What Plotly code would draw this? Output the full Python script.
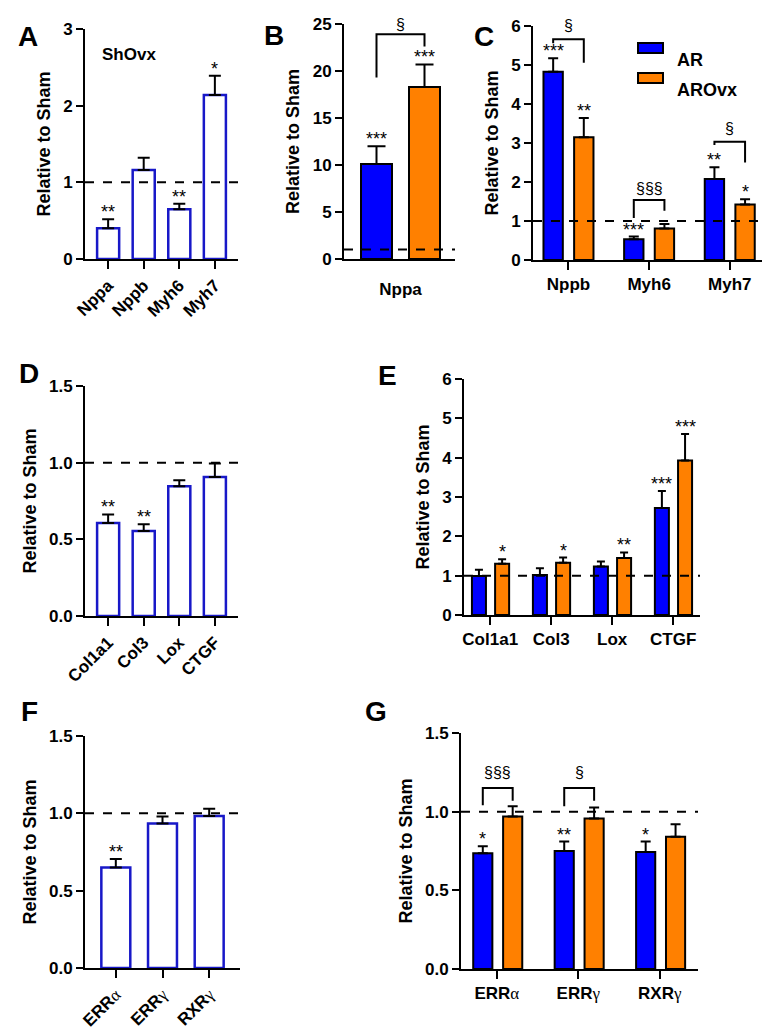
import plotly.graph_objects as go

W, H = 771, 1030
PAD = 8  # default page margin around the plot div
FW, FH = W - PAD, H - PAD
BLUE = "#0000FF"
ORANGE = "#FF8000"
HOLLOW = "#1818C8"
FONT = "Arial, Liberation Sans, sans-serif"

# ---------------- data ----------------
# A  ShOvx
a_genes = ["Nppa", "Nppb", "Myh6", "Myh7"]
a_mean = [0.40, 1.16, 0.65, 2.14]
a_sem = [0.12, 0.16, 0.07, 0.25]
a_sig = ["**", "", "**", "*"]

# B  Nppa, AR vs AROvx
b_genes = ["Nppa"]
b_ar = [10.1]
b_ar_sem = [1.9]
b_ovx = [18.3]
b_ovx_sem = [2.4]
b_ar_sig = ["***"]
b_ovx_sig = ["***"]

# C
c_genes = ["Nppb", "Myh6", "Myh7"]
c_ar = [4.83, 0.53, 2.08]
c_ar_sem = [0.34, 0.07, 0.30]
c_ovx = [3.15, 0.81, 1.42]
c_ovx_sem = [0.49, 0.11, 0.14]
c_ar_sig = ["***", "***", "**"]
c_ovx_sig = ["**", "", "*"]

# D  ShOvx fibrosis
d_genes = ["Col1a1", "Col3", "Lox", "CTGF"]
d_mean = [0.607, 0.554, 0.846, 0.907]
d_sem = [0.055, 0.044, 0.039, 0.087]
d_sig = ["**", "**", "", ""]

# E
e_genes = ["Col1a1", "Col3", "Lox", "CTGF"]
e_ar = [0.99, 1.02, 1.23, 2.72]
e_ar_sem = [0.16, 0.17, 0.13, 0.43]
e_ovx = [1.30, 1.33, 1.45, 3.93]
e_ovx_sem = [0.12, 0.13, 0.14, 0.67]
e_ar_sig = ["", "", "", "***"]
e_ovx_sig = ["*", "*", "**", "***"]

# F
GREEK = "<span style='font-family:Times New Roman, Liberation Serif, serif;font-weight:normal'>%s</span>"
f_genes = ["ERR" + GREEK % "α", "ERR" + GREEK % "γ", "RXR" + GREEK % "γ"]
f_mean = [0.65, 0.935, 0.983]
f_sem = [0.055, 0.045, 0.047]
f_sig = ["**", "", ""]

# G
g_genes = f_genes
g_ar = [0.735, 0.75, 0.743]
g_ar_sem = [0.045, 0.06, 0.067]
g_ovx = [0.97, 0.957, 0.84]
g_ovx_sem = [0.065, 0.07, 0.08]
g_ar_sig = ["*", "**", "*"]
g_ovx_sig = ["", "", ""]

# brackets: (panel, category, y_left, y_top, y_right, label, label_y)
brackets = [
    (2, 0, 19.3, 23.9, 22.6, "§", 25.0),
    (3, 0, 5.56, 5.66, 5.06, "§", 6.0),
    (3, 1, 1.08, 1.54, 1.26, "§§§", 1.84),
    (3, 2, 2.95, 3.03, 2.50, "§", 3.38),
    (7, 0, 1.04, 1.15, 1.07, "§§§", 1.25),
    (7, 1, 1.035, 1.15, 1.07, "§", 1.25),
]

fig = go.Figure()
annotations = []
shapes = []


def px_x(v):
    return (v - PAD) / FW


def px_y(v):
    return 1 - (v - PAD) / FH


def ref(n):
    return ("x" if n == 1 else f"x{n}"), ("y" if n == 1 else f"y{n}")


def setup_axes(n, xpx, ypx, xrange, yrange, ydtick, labels, tickangle=0,
               yfmt=None, xticklen=8, xtickcolor="black"):
    xa = "xaxis" if n == 1 else f"xaxis{n}"
    ya = "yaxis" if n == 1 else f"yaxis{n}"
    _, yr = ref(n)
    fig.update_layout(**{
        xa: dict(
            domain=[px_x(xpx[0]), px_x(xpx[1])], anchor=yr, range=xrange, automargin=False,
            tickvals=list(range(len(labels))), ticktext=labels,
            tickangle=tickangle, showline=True, linecolor="black", linewidth=2,
            ticks="outside", ticklen=xticklen, tickwidth=2, tickcolor=xtickcolor,
            showgrid=False, zeroline=False, fixedrange=True,
            tickfont=dict(family=FONT, size=17, color="black", weight="bold"),
        ),
        ya: dict(
            domain=[px_y(ypx[1]), px_y(ypx[0])], anchor=ref(n)[0], automargin=False,
            range=yrange, dtick=ydtick, tick0=0, tickformat=yfmt,
            showline=True, linecolor="black", linewidth=2,
            ticks="outside", ticklen=7, tickwidth=2, tickcolor="black",
            showgrid=False, zeroline=False, fixedrange=True,
            tickfont=dict(family=FONT, size=17, color="black", weight="bold"),
            title=dict(text="Relative to Sham", standoff=8,
                       font=dict(family=FONT, size=18, color="black", weight="bold")),
        ),
    })
    shapes.append(dict(type="line", xref=f"{ref(n)[0]} domain", yref=ref(n)[1],
                       x0=0, x1=1, y0=1, y1=1,
                       line=dict(color="black", width=2, dash="dash")))


def star(n, x, y, text):
    if not text:
        return
    xr, yr = ref(n)
    annotations.append(dict(x=x, y=y, xref=xr, yref=yr, text=text, showarrow=False,
                            yanchor="bottom", yshift=-5,
                            font=dict(family=FONT, size=18, color="black")))


def hollow_bars(n, means, sems, sig, width, cap):
    xr, yr = ref(n)
    xs = list(range(len(means)))
    fig.add_trace(go.Bar(
        x=xs, y=means, width=width, xaxis=xr, yaxis=yr, showlegend=False,
        marker=dict(color="white", line=dict(color=HOLLOW, width=2.5)),
        error_y=dict(type="data", symmetric=False, array=sems, arrayminus=[0] * len(sems),
                     color="black", thickness=2, width=cap),
    ))
    for i, (m, s, t) in enumerate(zip(means, sems, sig)):
        star(n, i, m + s, t)


def grouped_bars(n, ar, ar_sem, ovx, ovx_sem, ar_sig, ovx_sig, offs, width, cap):
    xr, yr = ref(n)
    xs = list(range(len(ar)))
    for vals, sems, sig, off, col, name in [
        (ar, ar_sem, ar_sig, offs[0], BLUE, "AR"),
        (ovx, ovx_sem, ovx_sig, offs[1], ORANGE, "AROvx"),
    ]:
        fig.add_trace(go.Bar(
            x=xs, y=vals, width=width, offset=off, xaxis=xr, yaxis=yr,
            name=name, showlegend=False,
            marker=dict(color=col, line=dict(color="black", width=2)),
            error_y=dict(type="data", symmetric=False, array=sems,
                         arrayminus=[0] * len(sems), color="black", thickness=2, width=cap),
        ))
        for i, (m, s, t) in enumerate(zip(vals, sems, sig)):
            star(n, i + off + width / 2, m + s, t)


# ---------------- panels ----------------
setup_axes(1, (85, 238), (29, 259), [-0.65, 3.65], [0, 3], 1, a_genes, tickangle=-45)
hollow_bars(1, a_mean, a_sem, a_sig, 0.62, 6)
annotations.append(dict(x=px_x(100), y=px_y(43), xref="paper", yref="paper", text="<b>ShOvx</b>",
                        showarrow=False, xanchor="left",
                        font=dict(family=FONT, size=17, color="black")))

setup_axes(2, (344, 455), (24, 259), [-0.565, 0.545], [0, 25], 5, b_genes,
           xticklen=14, xtickcolor="rgba(0,0,0,0)")
grouped_bars(2, b_ar, b_ar_sem, b_ovx, b_ovx_sem, b_ar_sig, b_ovx_sig, (-0.395, 0.085), 0.31, 9)

setup_axes(3, (533, 762), (26, 260), [-0.44, 2.40], [0, 6], 1, c_genes)
grouped_bars(3, c_ar, c_ar_sem, c_ovx, c_ovx_sem, c_ar_sig, c_ovx_sig, (-0.31, 0.07), 0.24, 5)

setup_axes(4, (85, 238), (386, 616), [-0.65, 3.65], [0, 1.5], 0.5, d_genes,
           tickangle=-45, yfmt=".1f")
hollow_bars(4, d_mean, d_sem, d_sig, 0.62, 6)

setup_axes(5, (464, 700), (379, 615), [-0.43, 3.44], [0, 6], 1, e_genes)
grouped_bars(5, e_ar, e_ar_sem, e_ovx, e_ovx_sem, e_ar_sig, e_ovx_sig, (-0.30, 0.08), 0.23, 4)

setup_axes(6, (85, 240), (736, 968), [-0.66, 2.66], [0, 1.5], 0.5, f_genes,
           tickangle=-45, yfmt=".1f")
hollow_bars(6, f_mean, f_sem, f_sig, 0.62, 6)

setup_axes(7, (461, 698), (733, 969), [-0.44, 2.47], [0, 1.5], 0.5, g_genes, yfmt=".1f")
grouped_bars(7, g_ar, g_ar_sem, g_ovx, g_ovx_sem, g_ar_sig, g_ovx_sig, (-0.29, 0.077), 0.235, 5)

# significance brackets between AR and AROvx bars
group_geom = {2: ((-0.395, 0.085), 0.31), 3: ((-0.31, 0.07), 0.24), 7: ((-0.29, 0.077), 0.235)}
for n, cat, yl, ytop, yrt, label, ly in brackets:
    (o1, o2), w = group_geom[n]
    xl, xrt = cat + o1 + w / 2, cat + o2 + w / 2
    xr, yr = ref(n)
    fig.add_trace(go.Scatter(
        x=[xl, xl, xrt, xrt], y=[yl, ytop, ytop, yrt], mode="lines", xaxis=xr, yaxis=yr,
        line=dict(color="black", width=2), showlegend=False, hoverinfo="skip", cliponaxis=False,
    ))
    annotations.append(dict(x=(xl + xrt) / 2, y=ly, xref=xr, yref=yr, text=label,
                            showarrow=False, font=dict(family=FONT, size=16, color="black")))

# legend (panel C)
for (y0, y1, col, name, ty) in [(43, 53, BLUE, "AR", 48), (73, 83, ORANGE, "AROvx", 78)]:
    shapes.append(dict(type="rect", xref="paper", yref="paper",
                       x0=px_x(638), x1=px_x(663), y0=px_y(y1), y1=px_y(y0),
                       fillcolor=col, line=dict(color="black", width=2)))
    annotations.append(dict(x=px_x(675), y=px_y(ty), xref="paper", yref="paper",
                            text=f"<b>{name}</b>", showarrow=False, xanchor="left",
                            font=dict(family=FONT, size=18, color="black")))

# panel letters
for letter, x, y in [("A", 16, 19), ("B", 274, 18), ("C", 484, 19), ("D", 17, 373),
                     ("E", 387, 375), ("F", 19, 729), ("G", 376, 729)]:
    annotations.append(dict(x=px_x(x), y=px_y(y), xref="paper", yref="paper",
                            text=f"<b>{letter}</b>", showarrow=False,
                            font=dict(family=FONT, size=28, color="black")))

fig.update_layout(
    width=FW, height=FH, autosize=False,
    margin=dict(l=0, r=0, t=0, b=0),
    paper_bgcolor="white", plot_bgcolor="white",
    barmode="overlay", showlegend=False,
    font=dict(family=FONT, color="black"),
    annotations=annotations, shapes=shapes,
)

fig.write_html("out.html")
